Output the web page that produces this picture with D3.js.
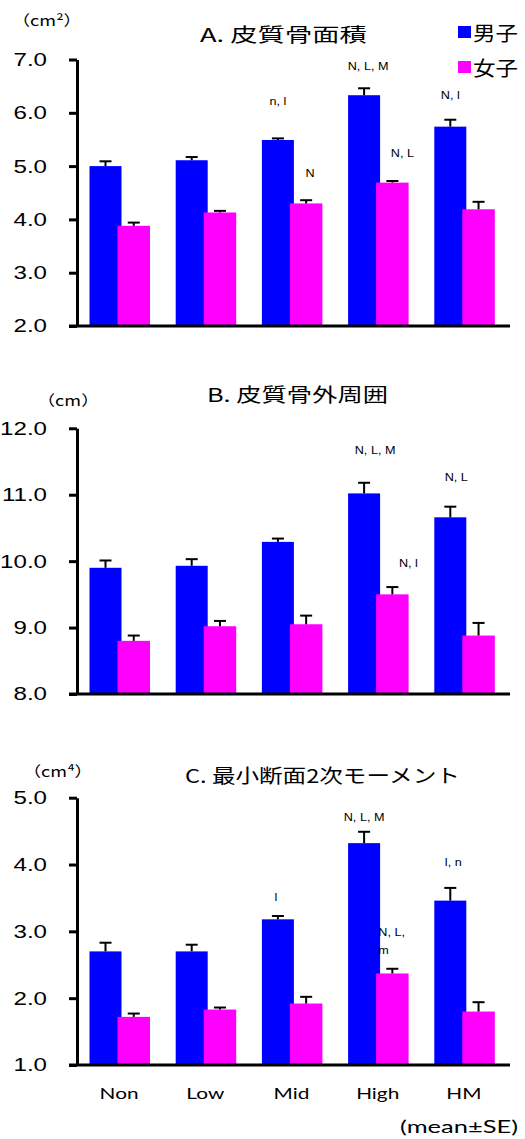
<!DOCTYPE html>
<html>
<head>
<meta charset="utf-8">
<script src="https://cdn.jsdelivr.net/npm/d3@7/dist/d3.min.js"></script>
<style>
  html, body { margin: 0; padding: 0; background: #fff; }
  svg { display: block; }
</style>
</head>
<body>
<svg id="chart" width="525" height="1139"></svg>
<script>
// Groups and series
const categories = ["Non", "Low", "Mid", "High", "HM"];
const sexLabels = ["男子", "女子"];

// A. cortical bone area (cm²)
const areaBoys = [5.00, 5.11, 5.49, 6.33, 5.74];
const areaBoysSE = [0.09, 0.06, 0.03, 0.13, 0.13];
const areaGirls = [3.88, 4.13, 4.30, 4.69, 4.19];
const areaGirlsSE = [0.06, 0.03, 0.06, 0.03, 0.14];
const areaTicks = [2, 3, 4, 5, 6, 7];

// B. cortical bone outer perimeter (cm)
const perimBoys = [9.90, 9.93, 10.29, 11.02, 10.66];
const perimBoysSE = [0.11, 0.10, 0.05, 0.16, 0.16];
const perimGirls = [8.80, 9.02, 9.05, 9.50, 8.88];
const perimGirlsSE = [0.08, 0.08, 0.13, 0.11, 0.19];
const perimTicks = [8, 9, 10, 11, 12];

// C. minimum second moment of area (cm⁴)
const momentBoys = [2.70, 2.70, 3.18, 4.32, 3.46];
const momentBoysSE = [0.13, 0.10, 0.05, 0.17, 0.19];
const momentGirls = [1.72, 1.83, 1.92, 2.37, 1.80];
const momentGirlsSE = [0.05, 0.03, 0.10, 0.07, 0.14];
const momentTicks = [1, 2, 3, 4, 5];

// Significance notes (category, series index 0 = boys / 1 = girls, text)
const areaNotes = [["Mid", 0, "n, l"], ["High", 0, "N, L, M"], ["HM", 0, "N, l"], ["Mid", 1, "N"], ["High", 1, "N, L"]];
const perimNotes = [["High", 0, "N, L, M"], ["HM", 0, "N, L"], ["High", 1, "N, l"]];
const momentNotes = [["Mid", 0, "l"], ["High", 0, "N, L, M"], ["HM", 0, "l, n"], ["High", 1, "N, L,|m"]];

const COLORS = ["#0000ff", "#ff00ff"];
const SX = 1.34; // horizontal stretch of the axis numbers
const CJK = "'Noto Sans CJK JP', sans-serif";
const SANS = "'Liberation Sans', Arial, sans-serif";
const LATIN = "Lato, 'Open Sans', sans-serif";

const svg = d3.select("#chart");

// text drawn with a horizontal stretch
function stretchText(parent, x, y, str, o) {
  const g = parent.append("g");
  const t = g.append("text")
    .attr("text-anchor", o.anchor || "middle")
    .attr("dominant-baseline", "central")
    .attr("font-family", o.font || SANS)
    .attr("font-size", o.size)
    .attr("fill", o.color || "#000")
    .text(str);
  let sx = o.sx || SX;
  if (o.width) sx = o.width / t.node().getComputedTextLength();
  g.attr("transform", `translate(${x},${y}) scale(${sx},1)`);
  return sx;
}

const x = d3.scaleBand().domain(categories).range([77, 508]).paddingInner(0).paddingOuter(0);
const bw = x.bandwidth();
const barOffset = [12.5, 40.5];
const barWidth = [32, 32.5];

const panels = [
  { title: "A. 皮質骨面積", unit: "（cm²）", boys: areaBoys, boysSE: areaBoysSE, girls: areaGirls, girlsSE: areaGirlsSE,
    ticks: areaTicks, notes: areaNotes, top: 59.5, bottom: 326,
    titleBox: [200, 367, 34], unitPos: [12, 20],
    noteLayout: [[0, 37], [4, 22], [0, 24], [4, 27], [10, 28]] },
  { title: "B. 皮質骨外周囲", unit: "（cm）", boys: perimBoys, boysSE: perimBoysSE, girls: perimGirls, girlsSE: perimGirlsSE,
    ticks: perimTicks, notes: perimNotes, top: 428.3, bottom: 694,
    titleBox: [207, 388, 394], unitPos: [37, 400],
    noteLayout: [[11, 32], [6, 29], [16, 24]] },
  { title: "C. 最小断面2次モーメント", unit: "（cm⁴）", boys: momentBoys, boysSE: momentBoysSE, girls: momentGirls, girlsSE: momentGirlsSE,
    ticks: momentTicks, notes: momentNotes, top: 797.7, bottom: 1065,
    titleBox: [185, 460, 775], unitPos: [23, 771],
    noteLayout: [[-2, 19], [0, 14], [3, 26], [6, 36]] }
];

panels.forEach(p => {
  const y = d3.scaleLinear().domain([p.ticks[0], p.ticks[p.ticks.length - 1]]).range([p.bottom, p.top]);
  const g = svg.append("g");
  const series = [
    categories.map((c, i) => ({ c, v: p.boys[i], se: p.boysSE[i], s: 0 })),
    categories.map((c, i) => ({ c, v: p.girls[i], se: p.girlsSE[i], s: 1 }))
  ];

  // bars (girls drawn over boys)
  series.forEach(ser => {
    g.selectAll(null).data(ser).join("rect")
      .attr("x", d => x(d.c) + barOffset[d.s])
      .attr("width", d => barWidth[d.s])
      .attr("y", d => y(d.v))
      .attr("height", d => y(p.ticks[0]) - y(d.v))
      .attr("fill", d => COLORS[d.s]);
  });

  // upper error bars
  series.forEach(ser => {
    const eb = g.selectAll(null).data(ser).join("g")
      .attr("transform", d => `translate(${x(d.c) + barOffset[d.s] + barWidth[d.s] / 2},0)`);
    eb.append("line").attr("x1", 0).attr("x2", 0)
      .attr("y1", d => y(d.v)).attr("y2", d => y(d.v + d.se))
      .attr("stroke", "#000").attr("stroke-width", 2);
    eb.append("line").attr("x1", -6).attr("x2", 6)
      .attr("y1", d => y(d.v + d.se)).attr("y2", d => y(d.v + d.se))
      .attr("stroke", "#000").attr("stroke-width", 2);
  });

  // y axis
  const ax = g.append("g").attr("transform", "translate(77,0)")
    .call(d3.axisLeft(y).tickValues(p.ticks).tickFormat(d3.format(".1f")).tickSize(8).tickSizeOuter(0));
  ax.select(".domain").attr("stroke", "#000").attr("stroke-width", 3);
  ax.selectAll(".tick line").attr("stroke", "#000").attr("stroke-width", 3);
  ax.selectAll(".tick text")
    .attr("x", -30 / SX).attr("dy", null)
    .attr("dominant-baseline", "central")
    .attr("transform", `scale(${SX},1)`)
    .attr("font-family", SANS)
    .attr("font-size", 18).attr("fill", "#000");

  // x axis baseline
  g.append("line").attr("x1", 69).attr("x2", 510)
    .attr("y1", y(p.ticks[0])).attr("y2", y(p.ticks[0]))
    .attr("stroke", "#000").attr("stroke-width", 3);

  // title and unit
  const tb = p.titleBox;
  stretchText(g, tb[0], tb[2], p.title, { anchor: "start", size: 19, font: CJK, width: tb[1] - tb[0] });
  stretchText(g, p.unitPos[0], p.unitPos[1], p.unit, { anchor: "start", size: 14.5, font: CJK, sx: 1.25 });

  // significance notes
  p.notes.forEach((n, k) => {
    const i = categories.indexOf(n[0]);
    const s = n[1];
    const v = s === 0 ? p.boys[i] : p.girls[i];
    const se = s === 0 ? p.boysSE[i] : p.girlsSE[i];
    const cx = x(n[0]) + barOffset[s] + barWidth[s] / 2 + p.noteLayout[k][0];
    const cy = y(v + se) - p.noteLayout[k][1];
    const lines = n[2].split("|");
    if (lines.length === 1) {
      stretchText(g, cx, cy, lines[0], { size: 11, sx: 1.15 });
    } else {
      const left = cx - 20;
      lines.forEach((ln, j) => stretchText(g, left, cy + j * 18, ln, { anchor: "start", size: 11, sx: 1.15 }));
    }
  });
});

// legend
sexLabels.forEach((lab, i) => {
  const cy = 32 + i * 35;
  svg.append("rect").attr("x", 458).attr("y", cy - 6).attr("width", 13).attr("height", 12).attr("fill", COLORS[i]);
  stretchText(svg, 473, cy, lab, { anchor: "start", size: 20, font: CJK, width: 45 });
});

// category labels under the last panel
categories.forEach(c => {
  stretchText(svg, x(c) + bw / 2 - 1, 1093, c, { size: 16, font: LATIN, sx: 1.3 });
});
stretchText(svg, 518, 1127, "(mean±SE)", { anchor: "end", size: 17, font: LATIN, width: 118 });
</script>
</body>
</html>
